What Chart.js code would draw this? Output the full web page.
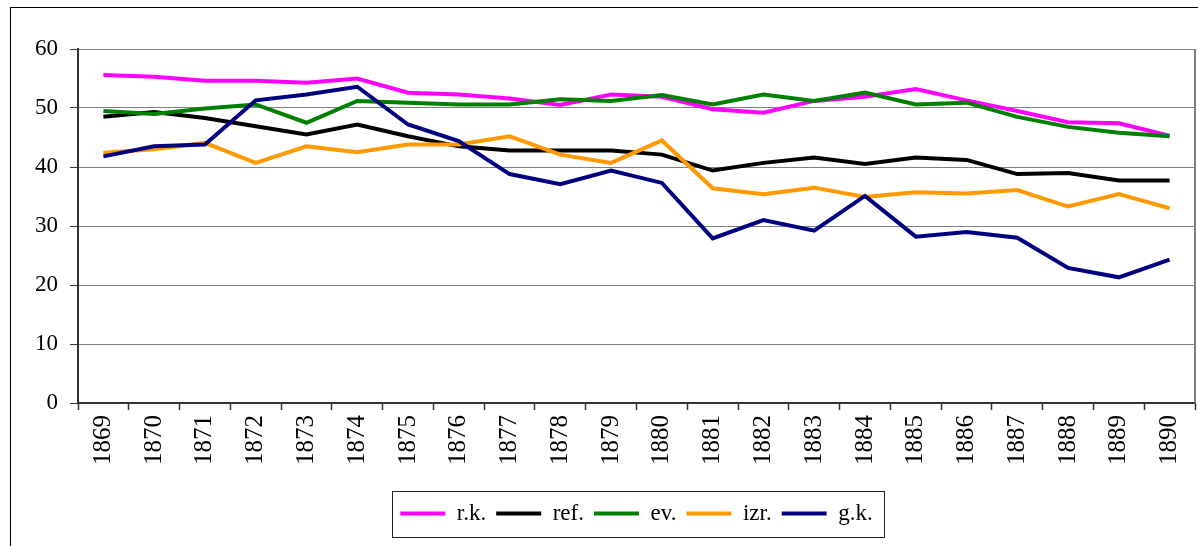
<!DOCTYPE html>
<html><head><meta charset="utf-8">
<script src="https://cdn.jsdelivr.net/npm/chart.js@4.4.1/dist/chart.umd.min.js"></script>
<style>html,body{margin:0;padding:0;background:#fff;} canvas{display:block;}</style>
</head><body>
<canvas id="c" width="1198" height="546"></canvas>
<script>
const years = ["1869","1870","1871","1872","1873","1874","1875","1876","1877","1878","1879","1880","1881","1882","1883","1884","1885","1886","1887","1888","1889","1890"];
const seriesNames = ["r.k.", "ref.", "ev.", "izr.", "g.k."];
const rk  = [55.6, 55.3, 54.6, 54.6, 54.3, 55.0, 52.6, 52.3, 51.6, 50.5, 52.3, 51.9, 49.8, 49.2, 51.2, 51.9, 53.2, 51.3, 49.5, 47.6, 47.4, 45.3];
const ref = [48.5, 49.3, 48.3, 46.9, 45.5, 47.2, 45.2, 43.5, 42.8, 42.8, 42.8, 42.1, 39.4, 40.7, 41.6, 40.5, 41.6, 41.2, 38.8, 39.0, 37.7, 37.7];
const ev  = [49.5, 49.0, 49.9, 50.6, 47.5, 51.2, 50.9, 50.6, 50.6, 51.5, 51.2, 52.2, 50.6, 52.3, 51.2, 52.6, 50.6, 50.9, 48.5, 46.8, 45.8, 45.2];
const izr = [42.4, 43.0, 44.1, 40.7, 43.5, 42.5, 43.8, 43.8, 45.2, 42.1, 40.7, 44.5, 36.4, 35.4, 36.5, 34.9, 35.7, 35.5, 36.1, 33.3, 35.4, 33.0];
const gk  = [41.8, 43.5, 43.8, 51.3, 52.3, 53.6, 47.2, 44.4, 38.8, 37.1, 39.4, 37.3, 27.9, 31.0, 29.2, 35.1, 28.2, 29.0, 28.0, 22.9, 21.3, 24.3];
const yMin = 0, yMax = 60, yStep = 10;

const colors = ["#FF00FF", "#000000", "#008000", "#FF9900", "#000080"];
const values = [rk, ref, ev, izr, gk];
const FONT = "'Liberation Serif', 'Times New Roman', serif";

const framePlugin = {
  id: 'frame',
  beforeDraw(chart) {
    const ctx = chart.ctx;
    ctx.save();
    ctx.fillStyle = '#fff';
    ctx.fillRect(0, 0, chart.width, chart.height);
    ctx.restore();
  },
  beforeDatasetsDraw(chart) {
    const ctx = chart.ctx, a = chart.chartArea;
    ctx.save();
    ctx.strokeStyle = '#808080';
    ctx.lineWidth = 2;
    ctx.beginPath();
    ctx.moveTo(Math.round(a.right), a.top);
    ctx.lineTo(Math.round(a.right), a.bottom);
    ctx.stroke();
    ctx.restore();
  },
  afterDraw(chart) {
    const ctx = chart.ctx;
    ctx.save();
    ctx.strokeStyle = '#000';
    ctx.lineWidth = 1;
    ctx.strokeRect(10.5, 7.5, 1400, 800);
    const hb = chart.legend.legendHitBoxes;
    if (hb && hb.length) {
      const first = hb[0], last = hb[hb.length - 1];
      const l = Math.round(first.left - 8) + 0.5;
      const r = Math.round(last.left + last.width + 11) + 0.5;
      const cy = first.top + first.height / 2;
      const t = Math.round(cy - 23) + 0.5, b = Math.round(cy + 23) + 0.5;
      ctx.strokeStyle = '#222';
      ctx.strokeRect(l, t, r - l, b - t);
    }
    ctx.restore();
  }
};

new Chart(document.getElementById('c'), {
  type: 'line',
  data: {
    labels: years,
    datasets: seriesNames.map((n, i) => ({
      label: n,
      data: values[i],
      borderColor: colors[i],
      backgroundColor: colors[i],
      borderWidth: 4,
      pointRadius: 0,
      pointStyle: 'line',
      fill: false,
      tension: 0,
      order: seriesNames.length - i
    }))
  },
  options: {
    responsive: false,
    animation: false,
    devicePixelRatio: 1,
    layout: { padding: { left: 0, right: 3, top: 49, bottom: 11 } },
    plugins: {
      legend: {
        position: 'bottom',
        fullSize: false,
        labels: {
          usePointStyle: true,
          pointStyle: 'line',
          pointStyleWidth: 45,
          padding: 10,
          color: '#000',
          font: { family: FONT, size: 23 },
          sort: (a, b) => a.datasetIndex - b.datasetIndex
        }
      },
      tooltip: { enabled: false }
    },
    scales: {
      x: {
        offset: true,
        grid: { offset: true, drawOnChartArea: false, tickLength: 7, tickColor: '#333', tickWidth: 1.5 },
        border: { color: '#333', width: 2 },
        ticks: { minRotation: 90, maxRotation: 90, autoSkip: false, padding: 5, color: '#000', font: { family: FONT, size: 25 } },
        afterFit(s) { s.height = 89; s.paddingLeft = 0; s.paddingRight = 0; }
      },
      y: {
        min: yMin, max: yMax,
        ticks: { stepSize: yStep, padding: 12, color: '#000', font: { family: FONT, size: 23 } },
        grid: { color: '#808080', tickLength: 8, tickColor: '#333', lineWidth: 1 },
        border: { color: '#333', width: 2 },
        afterFit(s) { s.width = 78; }
      }
    }
  },
  plugins: [framePlugin]
});
</script>
</body></html>
